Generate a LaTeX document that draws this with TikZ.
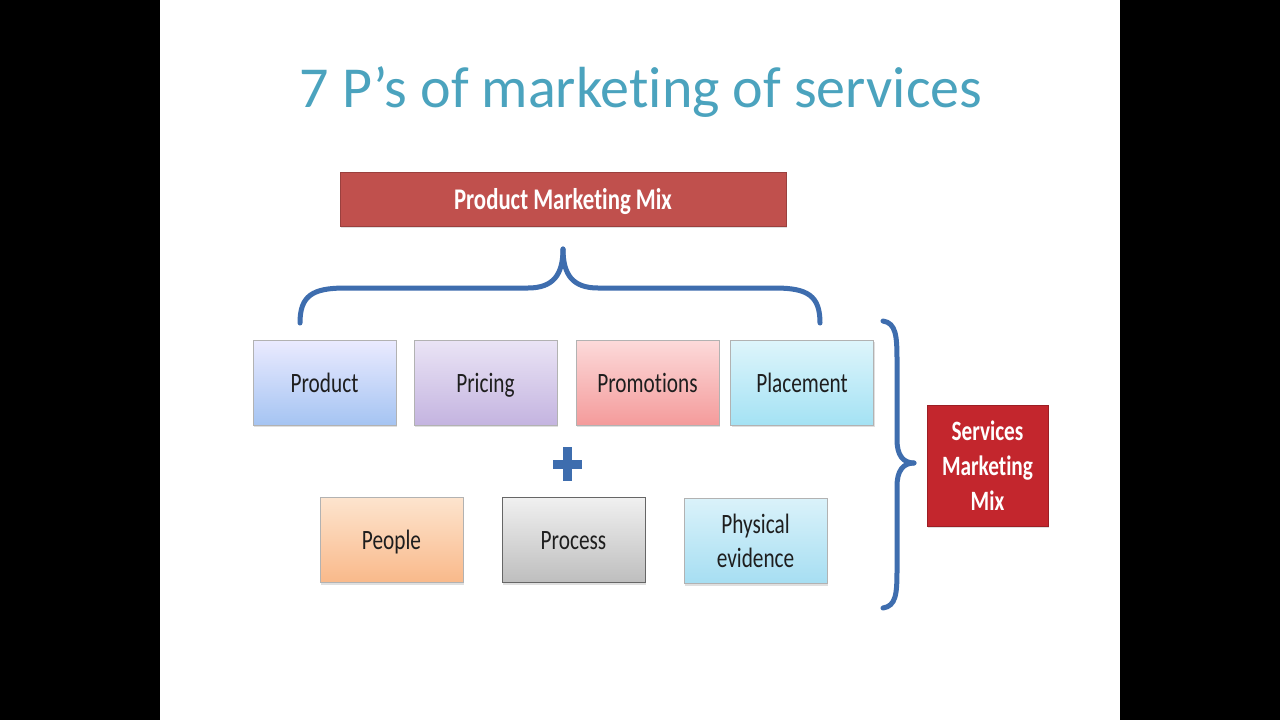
\documentclass[tikz,border=0pt]{standalone}
\usepackage{fontspec}
\setmainfont{Carlito}[Ligatures=NoCommon]
\newfontfamily\titlefont[Ligatures=NoCommon]{Carlito}
\newfontfamily\boxfont[FakeStretch=0.76,Ligatures=NoCommon]{Carlito}
\usetikzlibrary{shadows}
\definecolor{titleteal}{HTML}{4BA3BE}
\definecolor{pmred}{HTML}{C0504D}
\definecolor{smred}{HTML}{C3262D}
\definecolor{bracecol}{HTML}{3E6DAE}
\definecolor{txt}{HTML}{1E1E1E}
\tikzset{
  pbox/.style={rectangle, minimum width=143pt, minimum height=85pt, draw=#1, line width=1pt,
     font=\boxfont\fontsize{28}{27}\selectfont, text=txt, align=center,
     drop shadow={shadow xshift=1pt, shadow yshift=-2pt, opacity=0.25}},
  single/.style={text height=22pt, text depth=3pt},
  redbox/.style={rectangle, fill=#1, draw=#1!80!black, line width=0.6pt, text=white,
     font=\boxfont\bfseries\fontsize{30}{28}\selectfont, align=center,
     drop shadow={shadow xshift=1pt, shadow yshift=-2pt, opacity=0.25}},
  bracestyle/.style={draw=bracecol, line width=5pt, line cap=round},
}
\begin{document}
\begin{tikzpicture}[x=1pt, y=-1pt]
\useasboundingbox (0,0) rectangle (1280,720);
\fill[black] (0,0) rectangle (1280,720);
\fill[white] (160,0) rectangle (1120,720);
% title
\node[font=\titlefont\fontsize{58}{60}\selectfont, text=titleteal] (title) at (641,92) {7 P’s of marketing of services};
% product marketing mix
\node[redbox=pmred, minimum width=446pt, minimum height=54pt, text height=23pt, text depth=3pt] (pmm) at (563,199) {Product Marketing Mix};
% top brace
\draw[bracestyle] (300,323) .. controls (300,296) and (312,288) .. (345,288) -- (528,288)
   .. controls (553,288) and (563,275) .. (563,249);
\draw[bracestyle] (820,323) .. controls (820,296) and (808,288) .. (775,288) -- (598,288)
   .. controls (573,288) and (563,275) .. (563,249);
% row 1
\node[pbox=gray!60, single, top color=blue!8!white, bottom color={rgb,255:red,165;green,196;blue,242}] (product) at (324.5,382.5) {Product};
\node[pbox=gray!60, single, top color={rgb,255:red,234;green,228;blue,245}, bottom color={rgb,255:red,196;green,180;blue,224}] (pricing) at (485.5,382.5) {Pricing};
\node[pbox=gray!60, single, top color={rgb,255:red,252;green,218;blue,218}, bottom color={rgb,255:red,244;green,155;blue,155}] (promotions) at (647.5,382.5) {Promotions};
\node[pbox=gray!60, single, top color={rgb,255:red,222;green,245;blue,251}, bottom color={rgb,255:red,164;green,226;blue,244}] (placement) at (802,382.5) {Placement};
% plus
\fill[bracecol] (563,447) rectangle (572,481);
\fill[bracecol] (553,460) rectangle (582,469);
\coordinate (plus) at (567,464);
% row 2
\node[pbox=gray!60, single, top color={rgb,255:red,253;green,228;blue,206}, bottom color={rgb,255:red,249;green,185;blue,138}] (people) at (391.5,540) {People};
\node[pbox=gray!80!black, single, top color={rgb,255:red,240;green,240;blue,240}, bottom color={rgb,255:red,190;green,190;blue,190}] (process) at (573.5,540) {Process};
\node[pbox=gray!60, top color={rgb,255:red,218;green,242;blue,250}, bottom color={rgb,255:red,166;green,222;blue,242}, font=\boxfont\fontsize{28}{34}\selectfont] (physical) at (755.5,541) {Physical\\evidence};
% right brace
\draw[bracestyle] (883,321) .. controls (896,323) and (897,336) .. (897,360) -- (897,440)
   .. controls (897,455) and (903,463) .. (914,463);
\draw[bracestyle] (883,608) .. controls (896,606) and (897,594) .. (897,570) -- (897,486)
   .. controls (897,471) and (903,463) .. (914,463);
% services marketing mix
\node[redbox=smred, minimum width=121pt, minimum height=121pt, font=\boxfont\bfseries\fontsize{28}{35}\selectfont] (smm) at (987.5,465.5) {Services\\Marketing\\Mix};
\end{tikzpicture}
\end{document}
